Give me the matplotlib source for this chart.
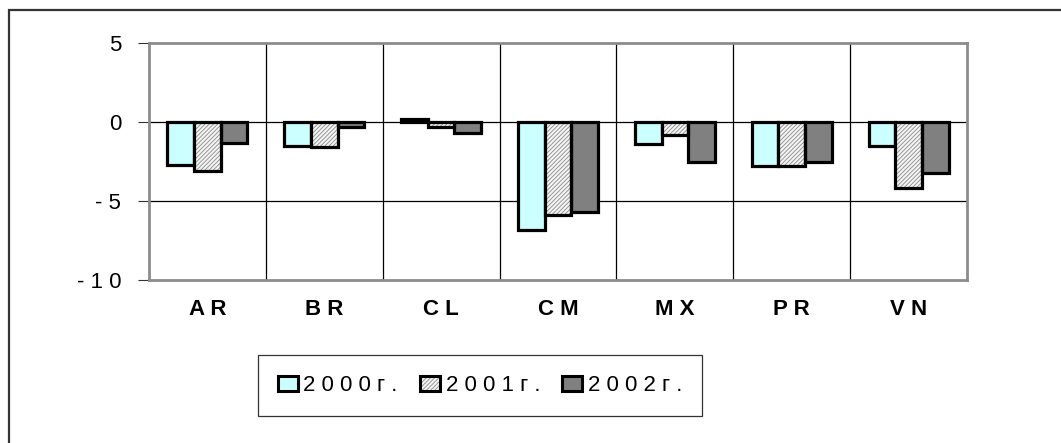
import matplotlib
matplotlib.use("Agg")
import matplotlib.pyplot as plt
import numpy as np
from matplotlib.patches import Patch, Rectangle
from matplotlib.legend_handler import HandlerTuple

plt.rcParams['font.family'] = ['Liberation Sans', 'DejaVu Sans']
plt.rcParams['hatch.linewidth'] = 0.6

categories = ["A R", "B R", "C L", "C M", "M X", "P R", "V N"]
series_names = ["2 0 0 0 г .", "2 0 0 1 г .", "2 0 0 2 г ."]
v2000 = [-2.7, -1.5, 0.2, -6.8, -1.4, -2.8, -1.5]
v2001 = [-3.1, -1.6, -0.3, -5.9, -0.8, -2.8, -4.2]
v2002 = [-1.3, -0.3, -0.7, -5.7, -2.5, -2.5, -3.2]
yticks = [5, 0, -5, -10]
ytick_labels = ["5", "0", "- 5", "- 1 0"]

W, H = 1061, 443
fig = plt.figure(figsize=(W / 100, H / 100), dpi=100)
ax = fig.add_axes([149 / W, 1 - 280 / H, (967 - 149) / W, (280 - 43.3) / H])

# outer border (top and left visible)
fig.add_artist(Rectangle((8.5 / W, -0.1), 1.2, 1 - 9.5 / H + 0.1, transform=fig.transFigure,
                         fill=False, edgecolor='#333333', linewidth=1.6))

x = np.arange(len(categories))
bw = 0.228
edge_lw = 2.3
hatch_pat = '////////'

ax.bar(x - bw, v2000, bw, color='#CCFFFF', edgecolor='black', linewidth=edge_lw, zorder=3)
ax.bar(x, v2001, bw, color='#f4f4f4', edgecolor='#8a8a8a', hatch=hatch_pat, linewidth=0, zorder=3)
ax.bar(x, v2001, bw, fill=False, edgecolor='black', linewidth=edge_lw, zorder=4)
ax.bar(x + bw, v2002, bw, color='#808080', edgecolor='black', linewidth=edge_lw, zorder=3)

ax.set_xlim(-0.5, len(categories) - 0.5)
ax.set_ylim(-10, 5)
ax.set_yticks(yticks)
ax.set_yticklabels(ytick_labels, fontsize=16)
ax.set_xticks(x)
ax.set_xticklabels(categories, fontsize=16, fontweight='bold')
ax.tick_params(axis='x', length=0, pad=14)
ax.tick_params(axis='y', length=8, width=0.8, color='#333333', pad=12)

# gridlines
for yv in [0, -5]:
    ax.axhline(yv, color='black', linewidth=0.9, zorder=1)
for xv in np.arange(0.5, len(categories) - 1, 1.0):
    ax.axvline(xv, color='black', linewidth=0.9, zorder=1)

for s in ax.spines.values():
    s.set_color('#8c8c8c')
    s.set_linewidth(2)

h0 = Patch(facecolor='#CCFFFF', edgecolor='black', linewidth=2.2)
h1a = Patch(facecolor='#f4f4f4', edgecolor='#8a8a8a', hatch=hatch_pat, linewidth=0)
h1b = Patch(fill=False, edgecolor='black', linewidth=2.2)
h2 = Patch(facecolor='#808080', edgecolor='black', linewidth=2.2)
leg = fig.legend([h0, (h1a, h1b), h2], series_names, loc='center',
                 bbox_to_anchor=(480 / W, 1 - 385.5 / H), ncol=3, fontsize=16,
                 handler_map={tuple: HandlerTuple(ndivide=1)},
                 handlelength=0.9, handleheight=0.65, handletextpad=0.25,
                 columnspacing=1.0, borderpad=0.9, borderaxespad=0,
                 fancybox=False, frameon=True)
leg.get_frame().set_edgecolor('black')
leg.get_frame().set_linewidth(0.9)

fig.savefig("out.png", dpi=100)
